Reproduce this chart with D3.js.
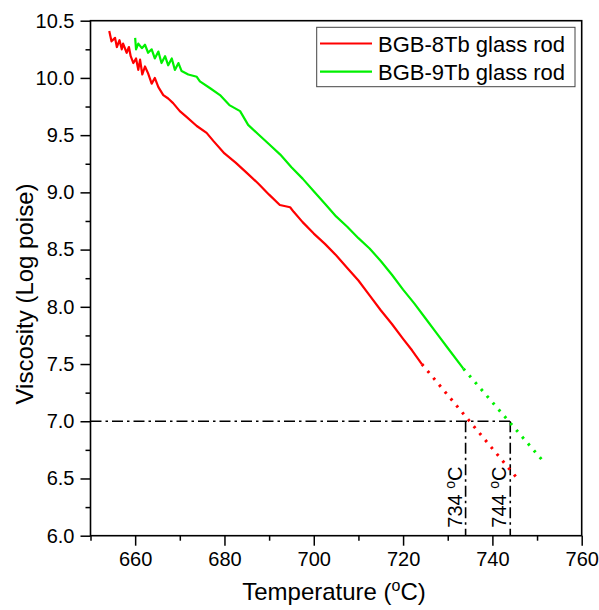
<!DOCTYPE html>
<html>
<head>
<meta charset="utf-8">
<script src="https://cdn.jsdelivr.net/npm/d3@7"></script>
<style>
  body { margin: 0; background: #fff; }
  text { font-family: Arial, "Liberation Sans", sans-serif; fill: #000; }
</style>
</head>
<body>
<svg id="chart"></svg>
<script>
// BGB-8Tb glass rod, measured part [temperature, log viscosity]
const redT = [654.2, 654.7, 655.5, 655.9, 656.5, 657.0, 657.3, 658.1, 658.6, 659.0, 659.6, 660.2, 660.7, 661.1, 661.6, 662.2, 662.9, 663.7, 664.4, 665.2, 666.3, 667.4, 668.5, 670.0, 671.5, 673.8, 676.0, 677.5, 680, 682.5, 685, 687.5, 690, 692.4, 694.7, 695.5, 697.5, 700, 702.5, 705, 707.5, 710, 712.5, 715, 717.5, 720, 722, 724.2];
const redV = [10.41, 10.32, 10.35, 10.27, 10.33, 10.25, 10.30, 10.22, 10.27, 10.19, 10.13, 10.17, 10.07, 10.16, 10.03, 10.10, 10.04, 9.95, 10.00, 9.92, 9.85, 9.82, 9.78, 9.71, 9.66, 9.58, 9.52, 9.45, 9.34, 9.26, 9.17, 9.08, 8.98, 8.89, 8.87, 8.83, 8.74, 8.64, 8.55, 8.45, 8.34, 8.23, 8.10, 7.97, 7.85, 7.72, 7.62, 7.50];
// extrapolated (dotted)
const redExtT = [724.2, 745.8];
const redExtV = [7.50, 6.49];

// BGB-9Tb glass rod
const greenT = [660.0, 660.2, 660.7, 661.5, 662.2, 662.9, 663.7, 664.4, 665.2, 665.9, 666.7, 667.4, 668.2, 668.9, 669.7, 670.4, 671.9, 673.8, 674.5, 676.8, 679.0, 681.2, 683.5, 685.3, 687.5, 690, 692.5, 695, 697.5, 700, 702.5, 705, 707.5, 710, 712.5, 715, 717.5, 720, 722.5, 725, 727.5, 730, 733.5];
const greenV = [10.35, 10.25, 10.30, 10.26, 10.29, 10.22, 10.25, 10.17, 10.23, 10.13, 10.19, 10.11, 10.17, 10.07, 10.13, 10.06, 10.03, 10.01, 9.97, 9.91, 9.85, 9.76, 9.71, 9.59, 9.51, 9.42, 9.33, 9.22, 9.12, 9.01, 8.90, 8.79, 8.70, 8.60, 8.51, 8.40, 8.28, 8.15, 8.03, 7.90, 7.77, 7.64, 7.46];
const greenExtT = [733.5, 751.4];
const greenExtV = [7.46, 6.65];

const xTicks = [660, 680, 700, 720, 740, 760];
const xMinor = [650, 670, 690, 710, 730, 750];
const yTicks = [6.0, 6.5, 7.0, 7.5, 8.0, 8.5, 9.0, 9.5, 10.0, 10.5];
const yMinor = [6.25, 6.75, 7.25, 7.75, 8.25, 8.75, 9.25, 9.75, 10.25];

const refV = 7.0;
const refT = [734, 744];
const seriesNames = ["BGB-8Tb glass rod", "BGB-9Tb glass rod"];
const seriesColors = ["#ff0000", "#00f000"];

const width = 599, height = 610;
const margin = { top: 20.7, right: 17.3, bottom: 74.3, left: 90.5 };

const svg = d3.select("#chart").attr("width", width).attr("height", height);

const x = d3.scaleLinear().domain([650, 760]).range([margin.left, width - margin.right]);
const y = d3.scaleLinear().domain([6.0, 10.5]).range([height - margin.bottom, margin.top]);

const line = d3.line().x(d => x(d[0])).y(d => y(d[1]));
const zip = (a, b) => a.map((v, i) => [v, b[i]]);

// reference dash-dot lines
const dashDot = "11,4,2.5,4";
svg.append("path")
  .attr("d", line([[650, refV], [refT[1], refV]]))
  .attr("fill", "none").attr("stroke", "#000").attr("stroke-width", 1.6)
  .attr("stroke-dasharray", dashDot);
refT.forEach(t => {
  svg.append("path")
    .attr("d", line([[t, refV], [t, 6.0]]))
    .attr("fill", "none").attr("stroke", "#000").attr("stroke-width", 1.6)
    .attr("stroke-dasharray", dashDot);
  svg.append("text")
    .attr("transform", `translate(${x(t) - 4},${y(6.0) - 8}) rotate(-90)`)
    .attr("font-size", 20)
    .attr("text-anchor", "start")
    .call(s => {
      s.append("tspan").text(t + " ");
      s.append("tspan").attr("font-size", 14).attr("dy", -7).text("o");
      s.append("tspan").attr("dy", 7).text("C");
    });
});

// curves
const solids = [zip(redT, redV), zip(greenT, greenV)];
const exts = [zip(redExtT, redExtV), zip(greenExtT, greenExtV)];
solids.forEach((d, i) => {
  svg.append("path").attr("d", line(d))
    .attr("fill", "none").attr("stroke", seriesColors[i])
    .attr("stroke-width", 2.2).attr("stroke-linejoin", "round");
});
exts.forEach((d, i) => {
  svg.append("path").attr("d", line(d))
    .attr("fill", "none").attr("stroke", seriesColors[i])
    .attr("stroke-width", 3).attr("stroke-dasharray", "2.5,6.5");
});

// axes
svg.append("g")
  .attr("transform", `translate(0,${y(6.0)})`)
  .call(d3.axisBottom(x).tickValues(xTicks).tickSize(10).tickPadding(6).tickFormat(d3.format("d")));
svg.append("g")
  .attr("transform", `translate(0,${y(6.0)})`)
  .call(d3.axisBottom(x).tickValues(xMinor).tickSize(5).tickFormat(""));
svg.append("g")
  .attr("transform", `translate(${x(650)},0)`)
  .call(d3.axisLeft(y).tickValues(yTicks).tickSize(10).tickPadding(6).tickFormat(d3.format(".1f")));
svg.append("g")
  .attr("transform", `translate(${x(650)},0)`)
  .call(d3.axisLeft(y).tickValues(yMinor).tickSize(5).tickFormat(""));

svg.selectAll(".domain").remove();
svg.selectAll(".tick line").attr("stroke", "#000").attr("stroke-width", 1.5);
svg.selectAll(".tick text").attr("font-size", 20).attr("font-family", "Arial, 'Liberation Sans', sans-serif");

// frame
svg.append("rect")
  .attr("x", x(650)).attr("y", y(10.5))
  .attr("width", x(760) - x(650)).attr("height", y(6.0) - y(10.5))
  .attr("fill", "none").attr("stroke", "#000").attr("stroke-width", 1.6);

// axis titles
svg.append("text")
  .attr("x", 334).attr("y", 600)
  .attr("text-anchor", "middle").attr("font-size", 24)
  .call(s => {
    s.append("tspan").text("Temperature (");
    s.append("tspan").attr("font-size", 16).attr("dy", -9).text("o");
    s.append("tspan").attr("dy", 9).text("C)");
  });
svg.append("text")
  .attr("transform", "translate(33,294) rotate(-90)")
  .attr("text-anchor", "middle").attr("font-size", 24)
  .text("Viscosity (Log poise)");

// legend
const lg = svg.append("g");
lg.append("rect")
  .attr("x", 316.7).attr("y", 27.3).attr("width", 258.3).attr("height", 59.4)
  .attr("fill", "#fff").attr("stroke", "#444").attr("stroke-width", 1);
seriesNames.forEach((name, i) => {
  const yy = 43.5 + i * 28.2;
  lg.append("line").attr("x1", 320).attr("x2", 372).attr("y1", yy).attr("y2", yy)
    .attr("stroke", seriesColors[i]).attr("stroke-width", 2.2);
  lg.append("text").attr("x", 378).attr("y", yy + 8).attr("font-size", 22).text(name);
});
</script>
</body>
</html>
